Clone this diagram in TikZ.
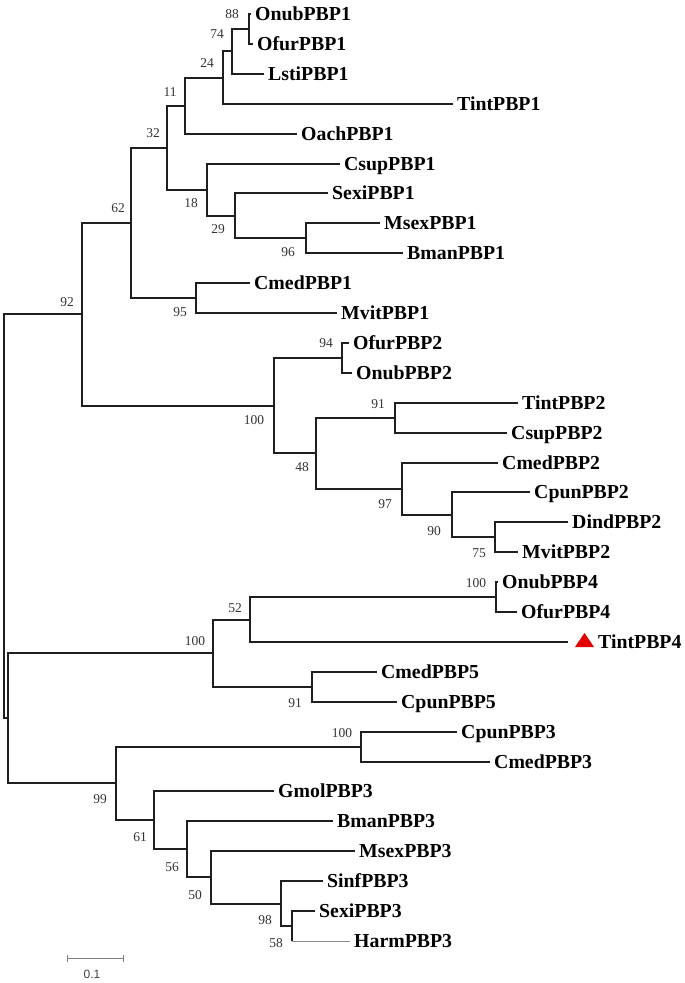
\documentclass[tikz,border=0pt]{standalone}
\usepackage{fontspec}
\setmainfont{Liberation Serif}
\setsansfont{Liberation Sans}
\begin{document}
\begin{tikzpicture}[x=1pt,y=-1pt,
  br/.style={line width=2pt, draw=black!88},
  thinbr/.style={line width=1pt, draw=black!45},
  leaf/.style={anchor=base west, inner sep=0pt, xshift=4pt, yshift=-6.5pt,
    font=\bfseries\fontsize{19.8}{20}\selectfont},
  bs/.style={inner sep=0pt, text=black!80, font=\fontsize{13.5}{13.5}\selectfont},
  scalebar/.style={line width=1pt, draw=black!50}]
\useasboundingbox (0,0) rectangle (685,983);

% ---- leaf end points ----
\coordinate (L0)  at (251,14);
\coordinate (L1)  at (253,44);
\coordinate (L2)  at (264,74);
\coordinate (L3)  at (453,104);
\coordinate (L4)  at (297,134);
\coordinate (L5)  at (340,164);
\coordinate (L6)  at (328,193);
\coordinate (L7)  at (380,223);
\coordinate (L8)  at (403,253);
\coordinate (L9)  at (250,283);
\coordinate (L10) at (337,313);
\coordinate (L11) at (349,343);
\coordinate (L12) at (352,373);
\coordinate (L13) at (518,403);
\coordinate (L14) at (507,433);
\coordinate (L15) at (498,463);
\coordinate (L16) at (530,492);
\coordinate (L17) at (568,522);
\coordinate (L18) at (518,552);
\coordinate (L19) at (498,582);
\coordinate (L20) at (517,612);
\coordinate (L21) at (568,642);
\coordinate (L22) at (377,672);
\coordinate (L23) at (397,702);
\coordinate (L24) at (457,732);
\coordinate (L25) at (490,762);
\coordinate (L26) at (274,791);
\coordinate (L27) at (333,821);
\coordinate (L28) at (355,851);
\coordinate (L29) at (323,881);
\coordinate (L30) at (315,911);
\coordinate (L31) at (350,941);

% ---- internal nodes ----
\coordinate (n88)  at (249,29);
\coordinate (n74)  at (232,51);
\coordinate (n24)  at (223,78);
\coordinate (n11)  at (185,106);
\coordinate (n96)  at (306,238);
\coordinate (n29)  at (235,216);
\coordinate (n18)  at (207,190);
\coordinate (n32)  at (167,148);
\coordinate (n95)  at (196,298);
\coordinate (n62)  at (131,223);
\coordinate (n94)  at (342,358);
\coordinate (n91a) at (395,418);
\coordinate (n75)  at (495,537);
\coordinate (n90)  at (452,515);
\coordinate (n97)  at (402,489);
\coordinate (n48)  at (316,453);
\coordinate (n100a) at (274,406);
\coordinate (n92)  at (82,314);
\coordinate (n100d) at (496,597);
\coordinate (n52)  at (250,620);
\coordinate (n91b) at (312,687);
\coordinate (n100b) at (213,653);
\coordinate (n100c) at (361,747);
\coordinate (n58)  at (292,926);
\coordinate (n98)  at (281,904);
\coordinate (n50)  at (211,877);
\coordinate (n56)  at (187,849);
\coordinate (n61)  at (154,820);
\coordinate (n99)  at (116,783);
\coordinate (nB)   at (8,718);
\coordinate (root) at (4,516);

% ---- branches ----
\draw[br] (root) |- (n92);
\draw[br] (root) |- (nB);
\draw[br] (n92) |- (n62);
\draw[br] (n92) |- (n100a);
\draw[br] (n62) |- (n32);
\draw[br] (n62) |- (n95);
\draw[br] (n32) |- (n11);
\draw[br] (n32) |- (n18);
\draw[br] (n11) |- (n24);
\draw[br] (n11) |- (L4);
\draw[br] (n24) |- (n74);
\draw[br] (n24) |- (L3);
\draw[br] (n74) |- (n88);
\draw[br] (n74) |- (L2);
\draw[br] (n88) |- (L0);
\draw[br] (n88) |- (L1);
\draw[br] (n18) |- (L5);
\draw[br] (n18) |- (n29);
\draw[br] (n29) |- (L6);
\draw[br] (n29) |- (n96);
\draw[br] (n96) |- (L7);
\draw[br] (n96) |- (L8);
\draw[br] (n95) |- (L9);
\draw[br] (n95) |- (L10);
\draw[br] (n100a) |- (n94);
\draw[br] (n100a) |- (n48);
\draw[br] (n94) |- (L11);
\draw[br] (n94) |- (L12);
\draw[br] (n48) |- (n91a);
\draw[br] (n48) |- (n97);
\draw[br] (n91a) |- (L13);
\draw[br] (n91a) |- (L14);
\draw[br] (n97) |- (L15);
\draw[br] (n97) |- (n90);
\draw[br] (n90) |- (L16);
\draw[br] (n90) |- (n75);
\draw[br] (n75) |- (L17);
\draw[br] (n75) |- (L18);
\draw[br] (nB) |- (n100b);
\draw[br] (nB) |- (n99);
\draw[br] (n100b) |- (n52);
\draw[br] (n100b) |- (n91b);
\draw[br] (n52) |- (n100d);
\draw[br] (n52) |- (L21);
\draw[br] (n100d) |- (L19);
\draw[br] (n100d) |- (L20);
\draw[br] (n91b) |- (L22);
\draw[br] (n91b) |- (L23);
\draw[br] (n99) |- (n100c);
\draw[br] (n99) |- (n61);
\draw[br] (n100c) |- (L24);
\draw[br] (n100c) |- (L25);
\draw[br] (n61) |- (L26);
\draw[br] (n61) |- (n56);
\draw[br] (n56) |- (L27);
\draw[br] (n56) |- (n50);
\draw[br] (n50) |- (L28);
\draw[br] (n50) |- (n98);
\draw[br] (n98) |- (L29);
\draw[br] (n98) |- (n58);
\draw[br] (n58) |- (L30);
\coordinate (h58) at (n58 |- L31);
\draw[br] (n58) -- (h58);
\draw[thinbr] (h58) -- (L31);

% ---- leaf labels ----
\node[leaf] (t0)  at (L0)  {OnubPBP1};
\node[leaf] (t1)  at (L1)  {OfurPBP1};
\node[leaf] (t2)  at (L2)  {LstiPBP1};
\node[leaf] (t3)  at (L3)  {TintPBP1};
\node[leaf] (t4)  at (L4)  {OachPBP1};
\node[leaf] (t5)  at (L5)  {CsupPBP1};
\node[leaf] (t6)  at (L6)  {SexiPBP1};
\node[leaf] (t7)  at (L7)  {MsexPBP1};
\node[leaf] (t8)  at (L8)  {BmanPBP1};
\node[leaf] (t9)  at (L9)  {CmedPBP1};
\node[leaf] (t10) at (L10) {MvitPBP1};
\node[leaf] (t11) at (L11) {OfurPBP2};
\node[leaf] (t12) at (L12) {OnubPBP2};
\node[leaf] (t13) at (L13) {TintPBP2};
\node[leaf] (t14) at (L14) {CsupPBP2};
\node[leaf] (t15) at (L15) {CmedPBP2};
\node[leaf] (t16) at (L16) {CpunPBP2};
\node[leaf] (t17) at (L17) {DindPBP2};
\node[leaf] (t18) at (L18) {MvitPBP2};
\node[leaf] (t19) at (L19) {OnubPBP4};
\node[leaf] (t20) at (L20) {OfurPBP4};
\node[leaf, xshift=26pt] (t21) at (L21) {TintPBP4};
\node[leaf] (t22) at (L22) {CmedPBP5};
\node[leaf] (t23) at (L23) {CpunPBP5};
\node[leaf] (t24) at (L24) {CpunPBP3};
\node[leaf] (t25) at (L25) {CmedPBP3};
\node[leaf] (t26) at (L26) {GmolPBP3};
\node[leaf] (t27) at (L27) {BmanPBP3};
\node[leaf] (t28) at (L28) {MsexPBP3};
\node[leaf] (t29) at (L29) {SinfPBP3};
\node[leaf] (t30) at (L30) {SexiPBP3};
\node[leaf] (t31) at (L31) {HarmPBP3};

% red triangle marker
\fill[red!90!black] (575,647) -- (594,647) -- (584.5,633) -- cycle;

% ---- bootstrap values ----
\node[bs] (b88)  at (232,14)  {88};
\node[bs] (b74)  at (217,34)  {74};
\node[bs] (b24)  at (207,63)  {24};
\node[bs] (b11)  at (170,92)  {11};
\node[bs] (b32)  at (153,133) {32};
\node[bs] (b62)  at (118,208) {62};
\node[bs] (b92)  at (67,302)  {92};
\node[bs] (b18)  at (191,203) {18};
\node[bs] (b29)  at (218,229) {29};
\node[bs] (b96)  at (288,252) {96};
\node[bs] (b95)  at (180,312) {95};
\node[bs] (b94)  at (326,343) {94};
\node[bs] (b100a) at (254,420) {100};
\node[bs] (b48)  at (302,467) {48};
\node[bs] (b91a) at (378,404) {91};
\node[bs] (b97)  at (385,504) {97};
\node[bs] (b90)  at (434,531) {90};
\node[bs] (b75)  at (479,553) {75};
\node[bs] (b100d) at (476,583) {100};
\node[bs] (b52)  at (235,608) {52};
\node[bs] (b100b) at (195,641) {100};
\node[bs] (b91b) at (295,703) {91};
\node[bs] (b100c) at (342,733) {100};
\node[bs] (b99)  at (100,799) {99};
\node[bs] (b61)  at (140,837) {61};
\node[bs] (b56)  at (172,867) {56};
\node[bs] (b50)  at (195,895) {50};
\node[bs] (b98)  at (265,920) {98};
\node[bs] (b58)  at (276,943) {58};

% ---- scale bar ----
\coordinate (s0) at (67,958);
\coordinate (s1) at (123,958);
\draw[scalebar] (s0) -- (s1);
\draw[scalebar] ([yshift=3.5pt]s0) -- ([yshift=-3.5pt]s0);
\draw[scalebar] ([yshift=3.5pt]s1) -- ([yshift=-3.5pt]s1);
\node[inner sep=0pt, text=black!75, font=\sffamily\fontsize{12}{12}\selectfont] (sl) at (92,974) {0.1};
\end{tikzpicture}
\end{document}
